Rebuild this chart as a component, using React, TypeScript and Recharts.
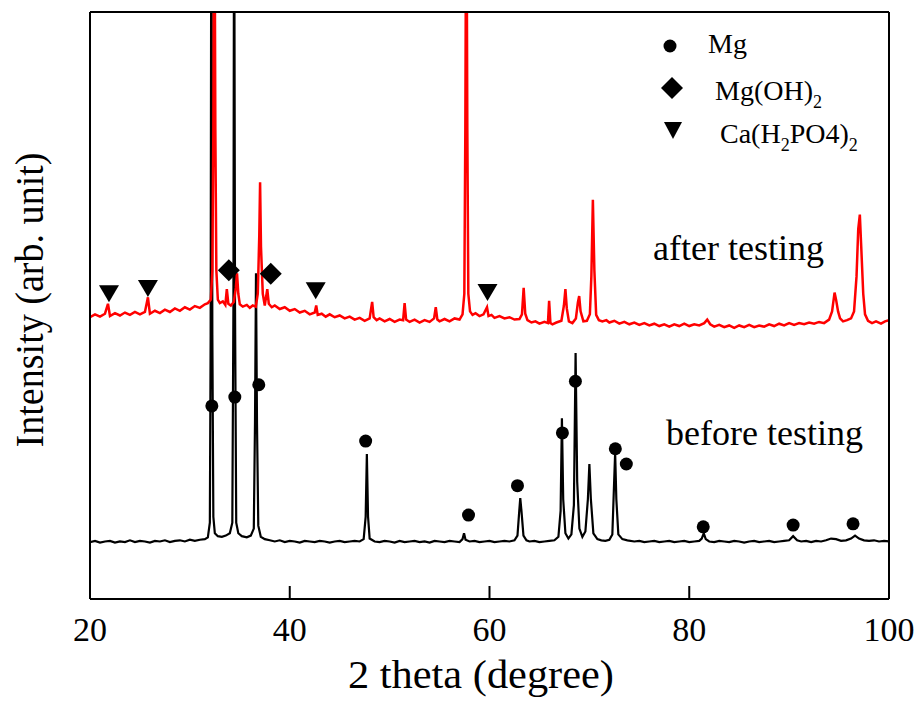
import React from 'react';
import { ComposedChart, Line, Scatter, XAxis, YAxis } from 'recharts';

const FONT = "'Liberation Serif', 'Times New Roman', serif";

// 2 theta (deg), intensity (arb.)
const beforeTesting: [number, number][] = [
  [20, 9.7], [20.5, 9.9], [21, 9.6], [21.5, 9.8], [22, 9.9], [22.5, 9.6], [23, 9.8], [23.5, 9.7],
  [24, 10.0], [24.5, 9.7], [25, 9.9], [25.5, 9.8], [26, 9.6], [26.5, 9.9], [27, 9.8], [27.5, 10.0],
  [28, 9.7], [28.5, 9.9], [29, 10.0], [29.5, 9.8], [30, 10.1], [30.5, 9.9], [31, 10.1], [31.5, 10.2],
  [31.8, 10.5], [32.0, 13], [32.08, 45], [32.15, 130], [32.25, 45], [32.35, 14], [32.5, 11.2],
  [32.8, 10.7], [33.2, 10.6], [33.6, 10.8], [34.0, 11.2], [34.25, 13], [34.36, 50], [34.43, 130],
  [34.52, 50], [34.64, 13], [34.85, 11.2], [35.2, 10.7], [35.7, 10.5], [36.1, 10.8], [36.4, 12],
  [36.52, 30], [36.62, 55.5], [36.72, 30], [36.85, 12.5], [37.1, 10.6], [37.5, 10.2], [38, 10.0],
  [38.5, 9.8], [39, 10.0], [39.5, 9.7], [40, 9.9], [40.5, 9.8], [41, 9.6], [41.5, 9.9], [42, 9.8],
  [42.5, 9.7], [43, 9.9], [43.5, 9.8], [44, 9.6], [44.5, 9.8], [45, 9.9], [45.5, 9.7], [46, 9.8],
  [46.5, 9.9], [47, 9.8], [47.4, 10.2], [47.6, 14], [47.72, 24.7], [47.84, 14], [48.0, 10.3],
  [48.5, 9.8], [49, 9.7], [49.5, 9.9], [50, 9.8], [50.5, 9.6], [51, 9.9], [51.5, 9.7], [52, 9.8],
  [52.5, 9.9], [53, 9.7], [53.5, 9.8], [54, 9.6], [54.5, 9.9], [55, 9.8], [55.5, 9.7], [56, 9.9],
  [56.5, 9.8], [57, 9.7], [57.3, 10.2], [57.45, 11.2], [57.6, 10.1], [58, 9.8], [58.5, 9.9],
  [59, 9.7], [59.5, 9.8], [60, 9.9], [60.5, 9.7], [61, 9.8], [61.5, 9.9], [62, 9.8], [62.5, 10.0],
  [62.8, 10.8], [62.98, 15], [63.08, 17.2], [63.2, 15], [63.4, 10.8], [63.7, 10.0], [64, 9.8],
  [64.5, 9.9], [65, 9.7], [65.5, 9.8], [66, 9.9], [66.5, 10.0], [66.9, 10.6], [67.12, 15],
  [67.25, 30.8], [67.38, 17], [67.6, 11.2], [67.9, 10.3], [68.2, 11.0], [68.45, 16], [68.62, 41.9],
  [68.78, 20], [69.0, 12], [69.3, 10.6], [69.6, 11.5], [69.85, 17], [70.0, 23], [70.15, 17],
  [70.4, 11.2], [70.8, 10.2], [71.2, 10.0], [71.6, 9.9], [72.0, 10.1], [72.3, 11], [72.48, 20],
  [72.58, 24.9], [72.7, 17], [72.9, 11], [73.3, 10.2], [73.8, 10.0], [74.5, 9.8], [75, 9.9],
  [75.5, 9.7], [76, 9.8], [76.5, 9.9], [77, 9.7], [77.5, 9.8], [78, 9.9], [78.5, 9.7], [79, 9.8],
  [79.5, 9.9], [80, 9.7], [80.5, 9.8], [81, 9.9], [81.25, 10.3], [81.45, 11.2], [81.65, 10.2],
  [82, 9.8], [82.5, 9.7], [83, 9.9], [83.5, 9.8], [84, 9.7], [84.5, 9.9], [85, 9.8], [85.5, 9.6],
  [86, 9.8], [86.5, 9.9], [87, 9.7], [87.5, 9.8], [88, 9.9], [88.5, 9.7], [89, 9.8], [89.5, 9.9],
  [90, 10.0], [90.4, 10.7], [90.8, 10.0], [91.2, 9.8], [91.7, 9.9], [92.2, 9.7], [92.7, 9.9],
  [93.2, 9.8], [93.7, 10.0], [94.2, 10.3], [94.7, 10.2], [95.2, 9.9], [95.7, 10.0], [96.2, 10.3],
  [96.6, 10.8], [97.0, 10.3], [97.5, 10.0], [98, 9.9], [98.5, 10.0], [99, 9.8], [99.5, 9.9], [100, 9.8],
];

const afterTesting: [number, number][] = [
  [20, 48.0], [20.5, 48.5], [21, 48.1], [21.5, 48.6], [21.8, 50.3], [22.0, 48.2], [22.5, 48.7],
  [23, 48.3], [23.5, 48.8], [24, 48.4], [24.5, 48.9], [25, 48.5], [25.5, 48.9], [25.8, 51.4],
  [26.0, 48.6], [26.5, 49.1], [27, 48.7], [27.5, 49.3], [28, 48.9], [28.5, 49.5], [29, 49.1],
  [29.5, 49.7], [30, 49.3], [30.5, 49.9], [31, 49.6], [31.5, 50.2], [31.8, 50.4], [32.1, 51],
  [32.25, 56], [32.35, 80], [32.45, 130], [32.55, 80], [32.65, 56], [32.8, 51], [33.0, 50.4],
  [33.3, 50.7], [33.55, 50.1], [33.7, 52.8], [33.85, 50.3], [34.1, 50.0], [34.4, 50.6], [34.6, 53],
  [34.72, 55.5], [34.85, 52], [35.0, 50.2], [35.3, 49.8], [35.7, 50.1], [36.0, 49.6], [36.3, 50.0],
  [36.6, 49.8], [36.8, 52], [36.95, 62], [37.03, 71.0], [37.12, 60], [37.3, 52], [37.5, 50.0],
  [37.75, 52.8], [37.9, 50.3], [38.2, 49.7], [38.5, 50.0], [39, 49.4], [39.5, 49.7], [40, 49.1],
  [40.5, 49.4], [41, 48.8], [41.5, 49.1], [42, 48.5], [42.5, 48.8], [42.65, 50.0], [42.8, 48.4],
  [43.2, 48.6], [43.6, 48.1], [44, 48.5], [44.5, 48.0], [45, 48.3], [45.5, 47.8], [46, 48.1],
  [46.5, 47.6], [47, 47.9], [47.5, 47.4], [48, 47.8], [48.15, 49.5], [48.25, 50.6], [48.4, 48.0],
  [48.7, 47.5], [49, 47.8], [49.5, 47.3], [50, 47.7], [50.5, 47.2], [51, 47.6], [51.35, 47.5],
  [51.5, 50.4], [51.65, 47.6], [52, 47.2], [52.5, 47.6], [53, 47.1], [53.5, 47.5], [54, 47.2],
  [54.45, 47.8], [54.62, 49.7], [54.78, 47.6], [55, 47.3], [55.5, 47.7], [56, 47.3], [56.5, 47.8],
  [57, 47.6], [57.3, 48.5], [57.48, 52], [57.58, 80], [57.68, 130], [57.78, 80], [57.88, 52],
  [58.05, 49], [58.3, 48.4], [58.6, 48.7], [59, 48.2], [59.4, 48.5], [59.75, 49.7], [59.9, 48.2],
  [60.2, 48.4], [60.5, 47.9], [61, 48.2], [61.5, 47.8], [62, 48.0], [62.5, 47.6], [63, 47.7],
  [63.25, 48.5], [63.42, 53.0], [63.58, 48.6], [63.8, 47.5], [64.2, 47.1], [64.6, 47.3], [65, 46.9],
  [65.5, 47.2], [65.85, 47.0], [65.97, 50.8], [66.1, 47.0], [66.3, 46.8], [66.7, 47.1], [67.2, 47.4],
  [67.45, 50], [67.6, 52.8], [67.74, 49.5], [67.95, 47.3], [68.3, 47.0], [68.65, 47.8], [68.85, 50.5],
  [68.98, 51.6], [69.12, 49], [69.4, 47.3], [69.75, 47.4], [70.05, 48.5], [70.2, 55], [70.35, 68.0],
  [70.5, 56], [70.68, 48.4], [70.95, 47.5], [71.3, 47.3], [71.7, 47.5], [72, 47.1], [72.5, 47.4],
  [73, 46.9], [73.5, 47.2], [74, 46.8], [74.5, 47.1], [75, 46.7], [75.5, 47.0], [76, 46.6],
  [76.5, 46.9], [77, 46.5], [77.5, 46.8], [78, 46.4], [78.5, 46.8], [79, 46.5], [79.5, 46.9],
  [80, 46.5], [80.5, 46.8], [81, 46.6], [81.5, 47.0], [81.8, 47.6], [82.1, 46.8], [82.5, 46.4],
  [83, 46.7], [83.5, 46.3], [84, 46.6], [84.5, 46.2], [85, 46.6], [85.5, 46.3], [86, 46.7],
  [86.5, 46.3], [87, 46.6], [87.5, 46.4], [88, 46.8], [88.5, 46.5], [89, 46.9], [89.5, 46.6],
  [90, 47.0], [90.5, 46.7], [91, 47.0], [91.5, 46.8], [92, 47.1], [92.5, 46.9], [93, 47.2],
  [93.5, 47.0], [94.0, 47.6], [94.3, 49], [94.55, 52.2], [94.7, 51], [94.9, 49], [95.1, 47.8],
  [95.4, 47.3], [95.8, 47.5], [96.2, 47.8], [96.5, 49], [96.75, 55], [96.92, 63], [97.08, 65.5],
  [97.22, 60], [97.42, 52], [97.6, 48.5], [97.9, 47.4], [98.3, 47.0], [98.7, 47.3], [99.2, 46.9],
  [99.6, 47.3], [100, 47.5],
];

// phase markers
const mgPeaks: [number, number][] = [
  [32.2, 32.9], [34.5, 34.4], [36.9, 36.5], [47.6, 26.9], [57.9, 14.3], [62.8, 19.3], [67.3, 28.3],
  [68.6, 37.1], [72.6, 25.6], [73.7, 23.0], [81.4, 12.3], [90.4, 12.6], [96.4, 12.8],
];
const mgOH2Peaks: [number, number][] = [[33.9, 56.0], [38.1, 55.4]];
const caPhosphatePeaks: [number, number][] = [[21.9, 52.1], [25.8, 53.0], [42.6, 52.6], [59.8, 52.3]];

const majorTicks = [20, 40, 60, 80, 100];
const minorTicks = [30, 50, 70, 90];

const rows = (pts: [number, number][]) => pts.map(([t, v]) => ({ t, v }));

const Dot = (p: any) => <circle cx={p.cx} cy={p.cy} r={6.5} fill="#000" />;
const Diamond = (p: any) => (
  <polygon
    points={`${p.cx},${p.cy - 11} ${p.cx + 11},${p.cy} ${p.cx},${p.cy + 11} ${p.cx - 11},${p.cy}`}
    fill="#000"
  />
);
const TriDown = (p: any) => (
  <polygon points={`${p.cx - 10},${p.cy - 8} ${p.cx + 10},${p.cy - 8} ${p.cx},${p.cy + 9}`} fill="#000" />
);

const axisStroke = { stroke: '#000', strokeWidth: 2 };

export default function App() {
  return (
    <div style={{ position: 'fixed', left: 0, top: 0, width: 918, height: 701, background: '#fff' }}>
      <ComposedChart width={918} height={701} margin={{ top: 11, right: 28, bottom: 100, left: 89 }}>
        <XAxis
          dataKey="t"
          type="number"
          domain={[20, 100]}
          allowDataOverflow
          ticks={majorTicks}
          interval={0}
          height={1}
          tickSize={-13}
          tickMargin={31}
          axisLine={axisStroke}
          tickLine={axisStroke}
          tick={{ fontSize: 34, fill: '#000', fontFamily: FONT }}
          label={{
            content: () => (
              <text x={481} y={688} textAnchor="middle" fontSize={40} fontFamily={FONT} fill="#000"
                textLength={266} lengthAdjust="spacingAndGlyphs">
                2 theta (degree)
              </text>
            ),
          }}
        />
        <XAxis
          xAxisId="minor"
          dataKey="t"
          type="number"
          domain={[20, 100]}
          ticks={minorTicks}
          interval={0}
          height={1}
          tickSize={-8}
          axisLine={false}
          tickLine={axisStroke}
          tick={false}
        />
        <XAxis xAxisId="top" orientation="top" dataKey="t" type="number" domain={[20, 100]}
          height={1} tick={false} tickLine={false} axisLine={axisStroke} />
        <YAxis
          type="number"
          domain={[0, 100]}
          allowDataOverflow
          width={1}
          tick={false}
          tickLine={false}
          axisLine={axisStroke}
          label={{
            content: () => (
              <text transform="translate(43,300) rotate(-90)" textAnchor="middle" fontSize={40}
                fontFamily={FONT} fill="#000" textLength={295} lengthAdjust="spacingAndGlyphs">
                Intensity (arb. unit)
              </text>
            ),
          }}
        />
        <YAxis yAxisId="right" orientation="right" domain={[0, 100]} width={1}
          tick={false} tickLine={false} axisLine={axisStroke} />

        <Line data={rows(beforeTesting)} dataKey="v" type="linear" stroke="#000" strokeWidth={2.2}
          dot={false} isAnimationActive={false} />
        <Line data={rows(afterTesting)} dataKey="v" type="linear" stroke="#ff0000" strokeWidth={2.5}
          dot={false} isAnimationActive={false} />
        <Scatter data={rows(mgPeaks)} dataKey="v" shape={Dot} isAnimationActive={false} />
        <Scatter data={rows(mgOH2Peaks)} dataKey="v" shape={Diamond} isAnimationActive={false} />
        <Scatter data={rows(caPhosphatePeaks)} dataKey="v" shape={TriDown} isAnimationActive={false} />
      </ComposedChart>

      {/* legend + curve labels */}
      <svg width={918} height={701} style={{ position: 'absolute', left: 0, top: 0, pointerEvents: 'none' }}
        fontFamily={FONT} fill="#000">
        <circle cx={670} cy={46} r={6.5} />
        <text x={708} y={53} fontSize={28}>Mg</text>
        <polygon points="672,77 683,88 672,99 661,88" />
        <text x={715} y={100} fontSize={28}>
          Mg(OH)<tspan fontSize={18} dy={8}>2</tspan>
        </text>
        <polygon points="664,122 682,122 673,139" />
        <text x={720} y={143} fontSize={28}>
          Ca(H<tspan fontSize={18} dy={8}>2</tspan>
          <tspan dy={-8}>PO4)</tspan>
          <tspan fontSize={18} dy={8}>2</tspan>
        </text>
        <text x={653} y={260} fontSize={36}>after testing</text>
        <text x={666} y={445} fontSize={36}>before testing</text>
      </svg>
    </div>
  );
}
